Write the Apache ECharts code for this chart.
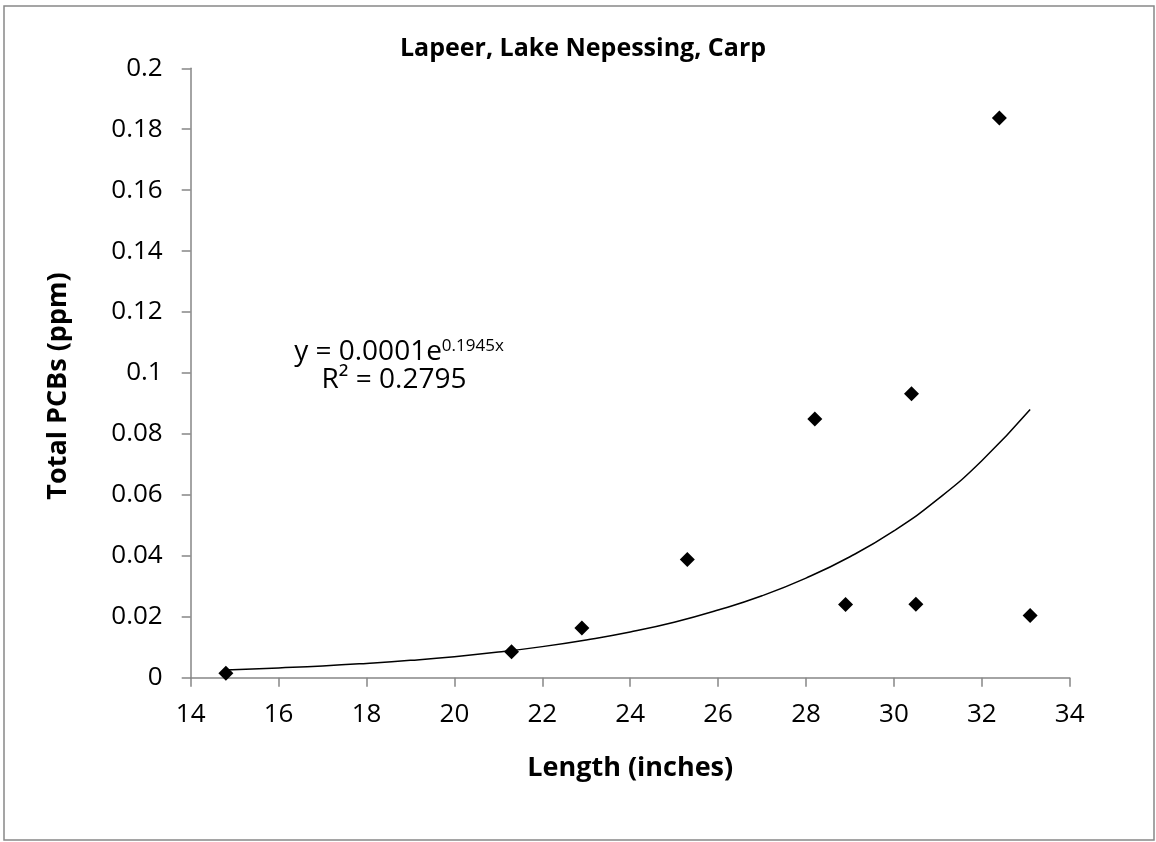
<!DOCTYPE html>
<html>
<head>
<meta charset="utf-8">
<script src="https://cdn.jsdelivr.net/npm/echarts@6/dist/echarts.min.js"></script>
<style>
html,body{margin:0;padding:0;background:#fff;}
#chart{width:1156px;height:842px;}
</style>
</head>
<body>
<div id="chart"></div>
<script>
// Measured points
const lengths = [14.8, 21.3, 22.9, 25.3, 28.2, 28.9, 30.4, 30.5, 32.4, 33.1];
const pcbs = [0.0015, 0.0085, 0.0163, 0.0388, 0.0849, 0.0240, 0.0932, 0.0241, 0.1837, 0.0204];

// Trendline points
const trendX = [14.8, 16, 17, 18, 19, 20, 21, 22, 23, 24, 25, 26, 27, 28, 29, 30, 31, 32, 33.1];
const trendY = [0.0025, 0.0032, 0.00385, 0.0047, 0.0057, 0.0069, 0.0084, 0.0102, 0.0124, 0.0150, 0.0182, 0.0222, 0.0269, 0.0327, 0.0397, 0.0482, 0.0586, 0.0712, 0.0880];

const xTicks = [14, 34, 2];
const yTicks = [0, 0.2, 0.02];

const titleText = 'Lapeer, Lake Nepessing, Carp';
const xName = 'Length (inches)';
const yName = 'Total PCBs (ppm)';
const eqMain = 'y = 0.0001e';
const eqSup = '0.1945x';
const r2Text = 'R² = 0.2795';

const FONT = '"Open Sans", sans-serif';
const chart = echarts.init(document.getElementById('chart'), null, {renderer: 'canvas'});

const option = {
  backgroundColor: '#ffffff',
  animation: false,
  title: {
    text: titleText,
    left: 578, top: 31, textAlign: 'center',
    textStyle: {fontFamily: FONT, fontWeight: 'bold', fontSize: 25, color: '#000'}
  },
  grid: {left: 190.7, right: 86.3, top: 68.3, bottom: 164.3, containLabel: false},
  xAxis: {
    type: 'value', min: xTicks[0], max: xTicks[1], interval: xTicks[2],
    name: xName, nameLocation: 'middle', nameGap: 77,
    nameTextStyle: {fontFamily: FONT, fontWeight: 'bold', fontSize: 27, color: '#000'},
    axisLine: {show: true, lineStyle: {color: '#868686', width: 1.5}},
    axisTick: {show: true, inside: false, length: 9, lineStyle: {color: '#868686', width: 1.5}},
    axisLabel: {fontFamily: FONT, fontSize: 26, color: '#000', margin: 24},
    splitLine: {show: false}
  },
  yAxis: {
    type: 'value', min: yTicks[0], max: yTicks[1], interval: yTicks[2],
    axisLine: {show: true, lineStyle: {color: '#868686', width: 1.5}},
    axisTick: {show: true, inside: false, length: 9, lineStyle: {color: '#868686', width: 1.5}},
    axisLabel: {fontFamily: FONT, fontSize: 26, color: '#000', margin: 28,
      formatter: v => String(+v.toFixed(4))},
    splitLine: {show: false}
  },
  graphic: [
    {type: 'rect', shape: {x: 4, y: 6, width: 1150, height: 834},
     style: {fill: 'none', stroke: '#888888', lineWidth: 1.5}, silent: true, z: -1},
    {type: 'text', x: 58, y: 386, rotation: Math.PI / 2,
     style: {text: yName, fontFamily: FONT, fontWeight: 'bold', fontSize: 27, fill: '#000',
       align: 'center', verticalAlign: 'middle'}},
    {type: 'text', x: 399, y: 352,
     style: {
       rich: {
         m: {fontFamily: FONT, fontSize: 28, fill: '#000'},
         s: {fontFamily: FONT, fontSize: 17, fill: '#000', verticalAlign: 'top', padding: [0, 0, 12, 0]}
       },
       text: '{m|' + eqMain + '}{s|' + eqSup + '}',
       align: 'center', verticalAlign: 'middle'
     }},
    {type: 'text', x: 394, y: 380,
     style: {text: r2Text, fontFamily: FONT, fontSize: 28, fill: '#000', align: 'center', verticalAlign: 'middle'}}
  ],
  series: [
    {
      type: 'line', data: trendX.map((x, i) => [x, trendY[i]]),
      smooth: true, showSymbol: false, symbol: 'none',
      lineStyle: {color: '#000', width: 1.5}, z: 2
    },
    {
      type: 'scatter', data: lengths.map((x, i) => [x, pcbs[i]]),
      symbol: 'diamond', symbolSize: 15,
      itemStyle: {color: '#000', opacity: 1}, z: 3
    }
  ]
};
chart.setOption(option);
</script>
</body>
</html>
